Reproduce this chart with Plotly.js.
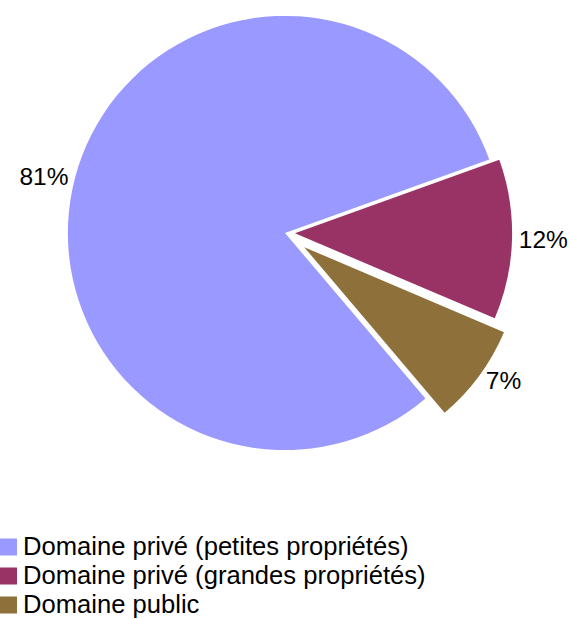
<!DOCTYPE html>
<html>
<head>
<meta charset="utf-8">
<script src="https://cdn.plot.ly/plotly-3.0.1.min.js"></script>
<style>
  html, body { margin: 0; padding: 0; background: #fff; overflow: hidden; }
  #chart { position: absolute; left: 0; top: -8px; width: 570px; height: 627px; }
</style>
</head>
<body>
<div id="chart"></div>
<script>
// Data
const categories = [
  "Domaine privé (petites propriétés)",
  "Domaine privé (grandes propriétés)",
  "Domaine public"
];
const shares = [80.7, 11.9, 7.4];
const pulls = [0, 0.046, 0.11];
const colors = ["#9999ff", "#993366", "#8e713a"];

const FONT = "Liberation Sans, Arial, sans-serif";

const trace = {
  type: "pie",
  labels: categories.map(c => '<span style="font-size:25.6px">' + c + '</span>'),
  values: shares,
  pull: pulls,
  sort: false,
  direction: "clockwise",
  rotation: 139.7,
  marker: { colors: colors, line: { width: 0 } },
  texttemplate: "%{percent:.0%}",
  textposition: "outside",
  textfont: { family: FONT, size: 24.5, color: "#000" },
  outsidetextfont: { family: FONT, size: 24.5, color: "#000" },
  hoverinfo: "none",
  domain: { x: [44 / 570, 526 / 570], y: [1 - 482 / 627, 1] }
};

const layout = {
  width: 570,
  height: 627,
  margin: { l: 0, r: 0, t: 0, b: 0, autoexpand: false },
  paper_bgcolor: "#fff",
  showlegend: true,
  legend: {
    x: -17 / 570,
    xanchor: "left",
    y: 1 - 584 / 627,
    yanchor: "middle",
    font: { family: FONT, size: 20, color: "#000" },
    bgcolor: "rgba(0,0,0,0)",
    borderwidth: 0
  }
};

const gd = document.getElementById("chart");
function bigSwatches() {
  gd.querySelectorAll(".legendpie").forEach(p => {
    p.setAttribute("transform", "translate(25.5,0) scale(1.42)");
  });
}
Plotly.newPlot(gd, [trace], layout, { staticPlot: true, displayModeBar: false }).then(() => {
  bigSwatches();
  gd.on && gd.on("plotly_afterplot", bigSwatches);
});
</script>
</body>
</html>
